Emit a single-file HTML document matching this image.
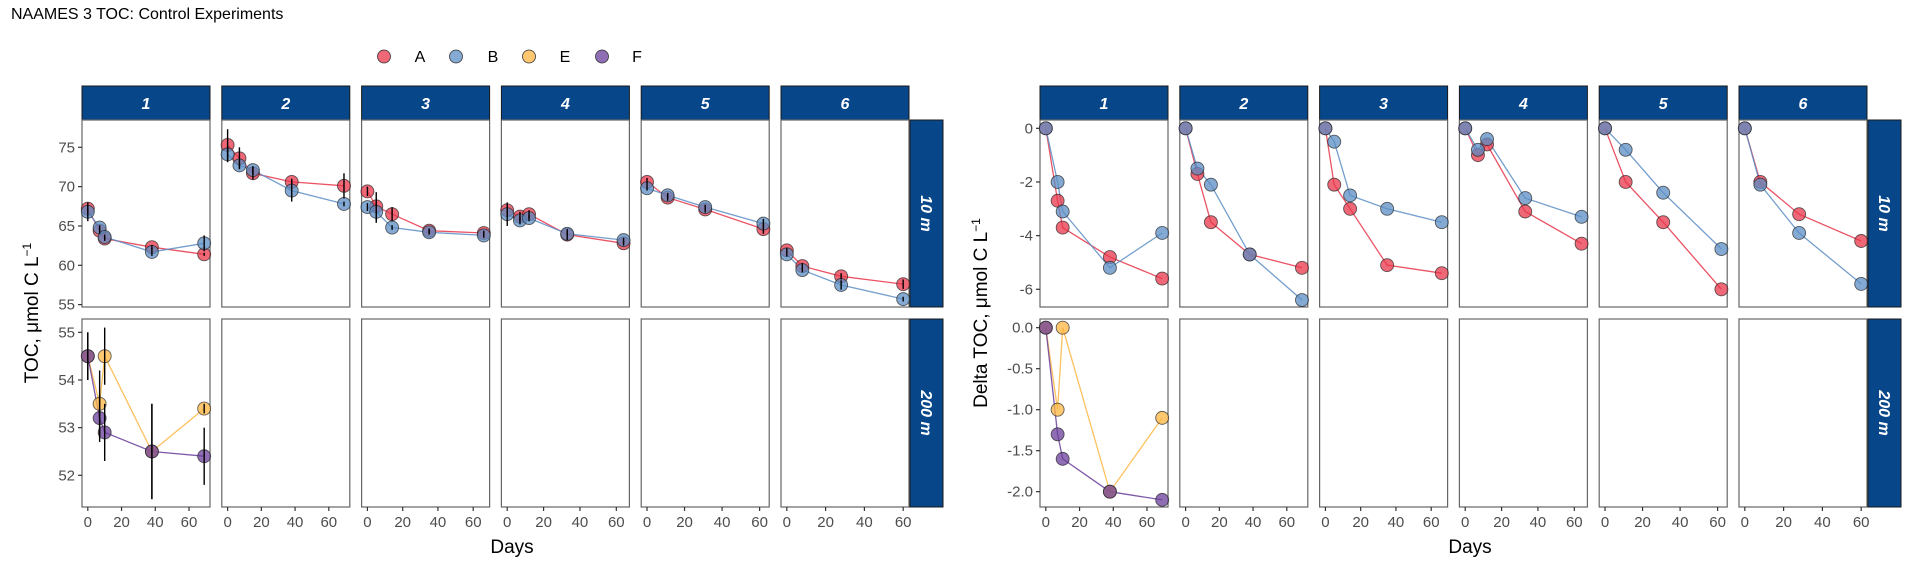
<!DOCTYPE html>
<html><head><meta charset="utf-8">
<style>
html,body{margin:0;padding:0;background:#fff;}
svg{display:block;font-family:"Liberation Sans",Arial,sans-serif;}
</style></head>
<body>
<svg id="chart" width="1920" height="576" viewBox="0 0 1920 576" xmlns="http://www.w3.org/2000/svg">
<text x="11" y="19" font-size="16" fill="#000">NAAMES 3 TOC: Control Experiments</text>
<g font-size="16">
<g><circle cx="384" cy="56.5" r="6.5" fill="#E8364A" fill-opacity="0.75" stroke="#333" stroke-width="0.8"/><text x="420" y="62" text-anchor="middle">A</text></g>
<g><circle cx="456" cy="56.5" r="6.5" fill="#5B8DC4" fill-opacity="0.75" stroke="#333" stroke-width="0.8"/><text x="493" y="62" text-anchor="middle">B</text></g>
<g><circle cx="529" cy="56.5" r="6.5" fill="#FDB642" fill-opacity="0.75" stroke="#333" stroke-width="0.8"/><text x="565" y="62" text-anchor="middle">E</text></g>
<g><circle cx="602" cy="56.5" r="6.5" fill="#6A3D9A" fill-opacity="0.75" stroke="#333" stroke-width="0.8"/><text x="637" y="62" text-anchor="middle">F</text></g>
</g>
<text transform="translate(38,313) rotate(-90)" text-anchor="middle" font-size="19">TOC, μmol C L<tspan dy="-7" font-size="12">−1</tspan></text>
<text transform="translate(987,313) rotate(-90)" text-anchor="middle" font-size="19">Delta TOC, μmol C L<tspan dy="-7" font-size="12">−1</tspan></text>
<text x="512" y="553" text-anchor="middle" font-size="19">Days</text>
<text x="1470" y="553" text-anchor="middle" font-size="19">Days</text>
</svg>
<script>
// ---- data ----
const panelLabels = ["1","2","3","4","5","6"];
const days = [[0,7,10,38,69],[0,7,15,38,69],[0,5,14,35,66],[0,7,12,33,64],[0,11,31,62],[0,8,28,60]];
const tocA = [[67.2,64.4,63.4,62.3,61.4],[75.3,73.6,71.7,70.6,70.1],[69.4,67.5,66.5,64.4,64.1],[67.0,66.2,66.5,63.9,62.8],[70.6,68.6,67.1,64.6],[61.9,59.9,58.6,57.6]];
const tocB = [[66.8,64.8,63.6,61.7,62.8],[74.1,72.7,72.1,69.5,67.8],[67.4,66.8,64.8,64.2,63.8],[66.5,65.7,66.0,64.0,63.2],[69.8,68.9,67.4,65.3],[61.4,59.4,57.5,55.7]];
const sdA = [[0.6,0.4,0.3,0.3,0.2],[2.0,1.4,0.8,0.4,1.6],[0.6,1.8,0.9,0.3,0.3],[0.8,0.6,0.5,0.7,0.3],[0.5,0.4,0.4,0.6],[0.3,0.4,0.4,0.6]];
const sdB = [[1.2,0.3,0.3,0.5,1.0],[1.0,0.4,0.5,1.4,0.3],[0.5,1.4,0.3,0.3,0.3],[1.5,0.5,0.4,0.3,0.3],[0.3,0.3,0.3,0.6],[0.3,0.3,0.6,0.3]];
const daysDeep = [0,7,10,38,69];
const tocE = [54.5,53.5,54.5,52.5,53.4];
const tocF = [54.5,53.2,52.9,52.5,52.4];
const sdE = [0.5,0.7,0.6,1.0,0.1];
const sdF = [0.5,0.5,0.6,1.0,0.6];
const deltaA = [[0,-2.7,-3.7,-4.8,-5.6],[0,-1.7,-3.5,-4.7,-5.2],[0,-2.1,-3.0,-5.1,-5.4],[0,-1.0,-0.6,-3.1,-4.3],[0,-2.0,-3.5,-6.0],[0,-2.0,-3.2,-4.2]];
const deltaB = [[0,-2.0,-3.1,-5.2,-3.9],[0,-1.5,-2.1,-4.7,-6.4],[0,-0.5,-2.5,-3.0,-3.5],[0,-0.8,-0.4,-2.6,-3.3],[0,-0.8,-2.4,-4.5],[0,-2.1,-3.9,-5.8]];
const deltaE = [0,-1.0,0.0,-2.0,-1.1];
const deltaF = [0,-1.3,-1.6,-2.0,-2.1];
const xTicks = [0,20,40,60];
const tocTopTicks = [55,60,65,70,75];
const tocBotTicks = [52,53,54,55];
const deltaTopTicks = [0,-2,-4,-6];
const deltaBotTicks = [0,-0.5,-1.0,-1.5,-2.0];
const rowLabels = ["10 m","200 m"];

const COL = {A:"#E8364A", B:"#5B8DC4", E:"#FDB642", F:"#6A3D9A"};
const NS = "http://www.w3.org/2000/svg";
const svg = document.getElementById("chart");
function mk(tag, attrs, parent){
  const e = document.createElementNS(NS, tag);
  for (const k in attrs) e.setAttribute(k, attrs[k]);
  (parent||svg).appendChild(e);
  return e;
}
const PW = 128, STEP = 139.8;
const ROWS = [{y0:120,y1:307},{y0:319,y1:507}];

function drawChart(left, name, yDomTop, yDomBot, topTicks, botTicks, fmt, dataTop, dataBot, sdTop, sdBot){
  const chartG = mk("g", {});
  
  
  for (let c = 0; c < 6; c++) {
    const x0 = left + c*STEP;
    const xmax = days[c][days[c].length-1];
    const dLo = -0.05*xmax, dHi = 1.05*xmax;
    const xs = d => x0 + (d - dLo)/(dHi - dLo)*PW;
    const st = mk("g", {}, chartG);
    
    
    mk("rect", {x:x0, y:86, width:PW, height:34, fill:"#08468A", stroke:"#1a1a1a", "stroke-width":1}, st);
    const stt = mk("text", {x:x0+PW/2, y:109, "text-anchor":"middle", fill:"#fff", "font-size":16, "font-weight":"bold", "font-style":"italic"}, st);
    stt.textContent = panelLabels[c];
    for (let r = 0; r < 2; r++) {
      const {y0, y1} = ROWS[r];
      const dom = r === 0 ? yDomTop : yDomBot;
      const ys = v => y1 - (v - dom[0])/(dom[1]-dom[0])*(y1-y0);
      const pg = mk("g", {}, chartG);
      
      
      mk("rect", {x:x0, y:y0, width:PW, height:y1-y0, fill:"#fff", stroke:"#666", "stroke-width":1.2}, pg);
      if (c === 0) {
        const ticks = r===0 ? topTicks : botTicks;
        ticks.forEach(t => {
          const y = ys(t);
          mk("line", {x1:x0-4, x2:x0, y1:y, y2:y, stroke:"#333", "stroke-width":1.2}, pg);
          const tl = mk("text", {x:x0-7, y:y+5, "text-anchor":"end", "font-size":15, fill:"#4d4d4d"}, pg);
          
          
          tl.textContent = fmt(t, r);
        });
      }
      if (r === 1) {
        xTicks.forEach(t => {
          if (t > dHi) return;
          const x = xs(t);
          mk("line", {x1:x, x2:x, y1:y1, y2:y1+4, stroke:"#333", "stroke-width":1.2}, pg);
          const tl = mk("text", {x:x, y:527, "text-anchor":"middle", "font-size":15, fill:"#4d4d4d"}, pg);
          
          
          tl.textContent = t;
        });
      }
      let series = [];
      if (r === 0) {
        series = [{k:"A", d:days[c], v:dataTop[0][c], sd:sdTop?sdTop[0][c]:null},
                  {k:"B", d:days[c], v:dataTop[1][c], sd:sdTop?sdTop[1][c]:null}];
      } else if (c === 0) {
        series = [{k:"E", d:daysDeep, v:dataBot[0], sd:sdBot?sdBot[0]:null},
                  {k:"F", d:daysDeep, v:dataBot[1], sd:sdBot?sdBot[1]:null}];
      }
      series.forEach(s => {
        const pts = s.d.map((d,i) => xs(d).toFixed(1)+","+ys(s.v[i]).toFixed(1)).join(" ");
        const ln = mk("polyline", {points:pts, fill:"none", stroke:COL[s.k], "stroke-width":1.3, "stroke-opacity":0.85}, pg);
        
        
      });
      series.forEach(s => {
        s.d.forEach((d,i) => {
          const p = mk("circle", {cx:xs(d), cy:ys(s.v[i]), r:6.5, fill:COL[s.k], "fill-opacity":0.75, stroke:"#222", "stroke-opacity":0.7, "stroke-width":0.9}, pg);
          
          
        });
      });
      series.forEach(s => {
        if (!s.sd) return;
        s.d.forEach((d,i) => {
          const x = xs(d);
          const eb = mk("line", {x1:x, x2:x, y1:ys(s.v[i]+s.sd[i]), y2:ys(s.v[i]-s.sd[i]), stroke:"#000", "stroke-width":1.4}, pg);
          
          
        });
      });
    }
  }
  const sx = left + 5*STEP + PW + 1;
  for (let r = 0; r < 2; r++) {
    const {y0, y1} = ROWS[r];
    const g = mk("g", {}, chartG);
    
    
    mk("rect", {x:sx, y:y0, width:33, height:y1-y0, fill:"#08468A", stroke:"#1a1a1a", "stroke-width":1}, g);
    const t = mk("text", {transform:"translate("+(sx+11)+","+((y0+y1)/2)+") rotate(90)", "text-anchor":"middle", fill:"#fff", "font-size":16, "font-weight":"bold", "font-style":"italic"}, g);
    t.textContent = rowLabels[r];
  }
}

drawChart(82, "toc-chart", [54.7,78.47], [51.335,55.28], tocTopTicks, tocBotTicks,
  (t) => String(t), [tocA, tocB], [tocE, tocF], [sdA, sdB], [sdE, sdF]);
drawChart(1040, "delta-toc-chart", [-6.66,0.31], [-2.187,0.106], deltaTopTicks, deltaBotTicks,
  (t, r) => r===1 ? t.toFixed(1) : String(t), [deltaA, deltaB], [deltaE, deltaF], null, null);
</script>
</body></html>
